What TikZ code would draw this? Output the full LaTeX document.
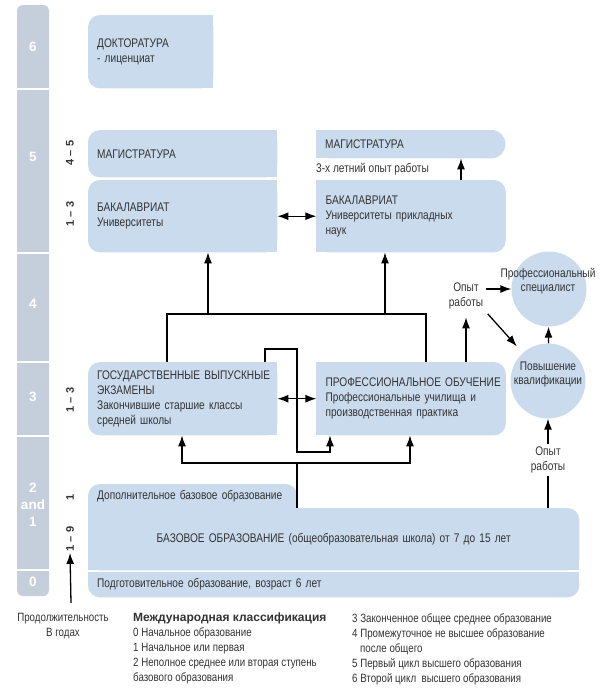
\documentclass[tikz,border=0pt]{standalone}
\usepackage{fontspec}
\setmainfont{Liberation Sans}[FakeStretch=0.81]
\newfontfamily\headfont{Liberation Sans}
\usetikzlibrary{arrows.meta,positioning,backgrounds}

\definecolor{boxblue}{HTML}{C9DBEC}
\definecolor{levelgray}{HTML}{C5CFDB}
\definecolor{textgray}{HTML}{333333}

\tikzset{
  box/.style={rectangle, anchor=north west, inner xsep=9pt, inner ysep=0pt,
    minimum width=189pt, text width=171pt, align=left, text=textgray,
    font=\fontsize{12.5}{15}\selectfont},
  txt/.style={align=center, text=textgray, inner sep=3pt,
    font=\fontsize{12.5}{14}\selectfont},
  circ/.style={circle, fill=boxblue, minimum size=75pt, inner sep=0pt},
  level/.style={text=white, align=center, font=\headfont\bfseries\fontsize{13.5}{17}\selectfont},
  years/.style={rotate=90, text=textgray, inner sep=1.5pt,
    font=\headfont\bfseries\fontsize{11}{12}\selectfont},
  legend/.style={anchor=north west, align=left, inner sep=0pt, text=textgray,
    font=\fontsize{12}{15}\selectfont},
  conn/.style={line width=1.3pt},
}

% fills of the boxes, drawn behind the texts
\newcommand{\roundleft}[1]{%
  \fill[boxblue, rounded corners=12pt] (#1.south west) rectangle (#1.north east);
  \fill[boxblue] (#1.south) rectangle (#1.north east);}
\newcommand{\roundright}[2][12pt]{%
  \fill[boxblue, rounded corners=#1] (#2.south west) rectangle (#2.north east);
  \fill[boxblue] (#2.south west) rectangle (#2.north);}

\begin{document}
\begin{tikzpicture}[x=1pt, y=-1pt, >={Latex[length=11pt,width=8pt]}]
  \useasboundingbox (0,0) rectangle (600,691);

  % levels
  \node (l6) [level] at (33,47) {6};
  \node (l5) [level] at (33,157) {5};
  \node (l4) [level] at (33,304) {4};
  \node (l3) [level] at (33,397) {3};
  \node (l21) [level] at (33,505) {2\\and\\1};
  \node (l0) [level] at (33,582) {0};

  % years
  \node (y45) [years] at (70,153) {4 – 5};
  \node (y13a) [years] at (70,214) {1 – 3};
  \node (y13b) [years] at (70,400) {1 – 3};
  \node (y1) [years] at (70,497) {1};
  \node (y19) [years] at (70,539) {1 – 9};

  % boxes
  \node (doct) [box, minimum width=125pt, text width=107pt, minimum height=73pt] at (88,15) {ДОКТОРАТУРА\\- лиценциат};
  \node (magL) [box, minimum height=47pt] at (88,130) {МАГИСТРАТУРА};
  \node (bakL) [box, minimum height=72pt] at (88,180) {БАКАЛАВРИАТ\\Университеты};
  \node (bakR) [box, minimum height=72pt, right=39pt of bakL] {БАКАЛАВРИАТ\\Университеты прикладных\\наук};
  \node (magR) [box, minimum height=28pt] at (316,130) {МАГИСТРАТУРА};
  \node (note) [txt, anchor=west, inner sep=0pt] at (316,169) {3-х летний опыт работы};
  \node (gos) [box, minimum height=73pt] at (88,362) {ГОСУДАРСТВЕННЫЕ~ВЫПУСКНЫЕ\\ЭКЗАМЕНЫ\\Закончившие старшие классы\\средней школы};
  \node (prof) [box, minimum height=73pt, right=39pt of gos] {ПРОФЕССИОНАЛЬНОЕ~ОБУЧЕНИЕ\\Профессиональные училища и\\производственная практика};
  \node (dop) [box, minimum width=209pt, text width=191pt, minimum height=24pt] at (88,484) {Дополнительное базовое образование};
  \node (base) [box, minimum width=491pt, text width=473pt, minimum height=62pt, align=center] at (88,508) {БАЗОВОЕ ОБРАЗОВАНИЕ (общеобразовательная школа) от 7 до 15 лет};
  \node (prep) [box, minimum width=491pt, text width=473pt, minimum height=25pt] at (88,572) {Подготовительное образование, возраст 6 лет};

  % circles
  \node (spec) [circ] at (549,289) {};
  \node (spectext) [txt] at (548,281) {Профессиональный\\специалист};
  \node (qual) [circ] at (548,381) {};
  \node (qualtext) [txt] at (548,374) {Повышение\\квалификации};
  \node (work1) [txt, font=\fontsize{12.5}{15}\selectfont] at (466,296) {Опыт\\работы};
  \node (work2) [txt, font=\fontsize{12.5}{15}\selectfont] at (548,460) {Опыт\\работы};

  % legend
  \node (dur) [legend, align=center, anchor=north] at (63,613) {Продолжительность\\В годах};
  \node (intl) [legend] at (133,613) {{\headfont\bfseries\fontsize{12}{15}\selectfont Международная классификация}\\0 Начальное образование\\1 Начальное или первая\\2 Неполное среднее или вторая ступень\\базового образования};
  \node (intl2) [legend] at (352,613) {3 Законченное общее среднее образование\\4 Промежуточное не высшее образование\\\hspace*{8pt}после общего\\5 Первый цикл высшего образования\\6 Второй цикл\ \ высшего образования};

  \begin{pgfonlayer}{background}
    \fill[levelgray, rounded corners=6pt] (17,5) rectangle (49,596);
    \foreach \y in {89,253,362,436,570}
      \draw[white, line width=1.5pt] (17,\y) -- (49,\y);
    \roundleft{doct}
    \roundleft{magL}
    \roundleft{bakL}
    \roundleft{gos}
    \roundright[14pt]{magR}
    \roundright{bakR}
    \roundright{prof}
    \fill[boxblue, rounded corners=12pt] (dop.south west) rectangle (dop.north east);
    \fill[boxblue] (dop.south west) rectangle (dop.east);
    \fill[boxblue, rounded corners=12pt] (base.south west) rectangle (base.north east);
    \fill[boxblue] (base.south west) rectangle (base.north);
    \fill[boxblue] (base.south west) rectangle (base.east);
    \fill[boxblue, rounded corners=12pt] (prep.south west) rectangle (prep.north east);
    \fill[boxblue] (prep.west) rectangle (prep.north east);
  \end{pgfonlayer}

  % connectors
  \coordinate (jl) at (208,314);
  \coordinate (jr) at (385,314);
  \coordinate (split) at (297,463);
  \coordinate (durstart) at (71,603);

  \path[conn]
  (bakL) edge[<->] (bakR)
  (gos) edge[<->] (prof)
  (qual) edge[->] (spec)
  (work2) edge[->] (qual)
  (durstart) edge[->] (y19.west);

  \draw[conn,->] (bakR.north -| 461,0) -- (magR.south -| 461,0);
  \draw[conn] (gos.north -| 167,0) |- (jl) -- (jr) -| (prof.north -| 426,0);
  \draw[conn,->] (jl) -- (jl |- bakL.south);
  \draw[conn,->] (jr) -- (jr |- bakR.south);
  \draw[conn,->] (gos.north -| 265,0) |- (297,349) |- (330,452) -- (prof.south -| 330,0);
  \draw[conn] (base.north -| split) -- (split);
  \draw[conn,->] (split) -| (gos.south -| 182,0);
  \draw[conn,->] (split) -| (prof.south -| 410,0);
  \draw[conn,->, shorten >=5pt] (prof.north -| work1) -- (work1.south);
  \draw[conn,->] (work1.east |- spec) -- (spec.west);
  \draw[conn,->, shorten <=2pt, shorten >=9pt] (work1.south east) -- (qual);
  \draw[conn] (base.north -| work2) -- (work2.south);
\end{tikzpicture}
\end{document}
